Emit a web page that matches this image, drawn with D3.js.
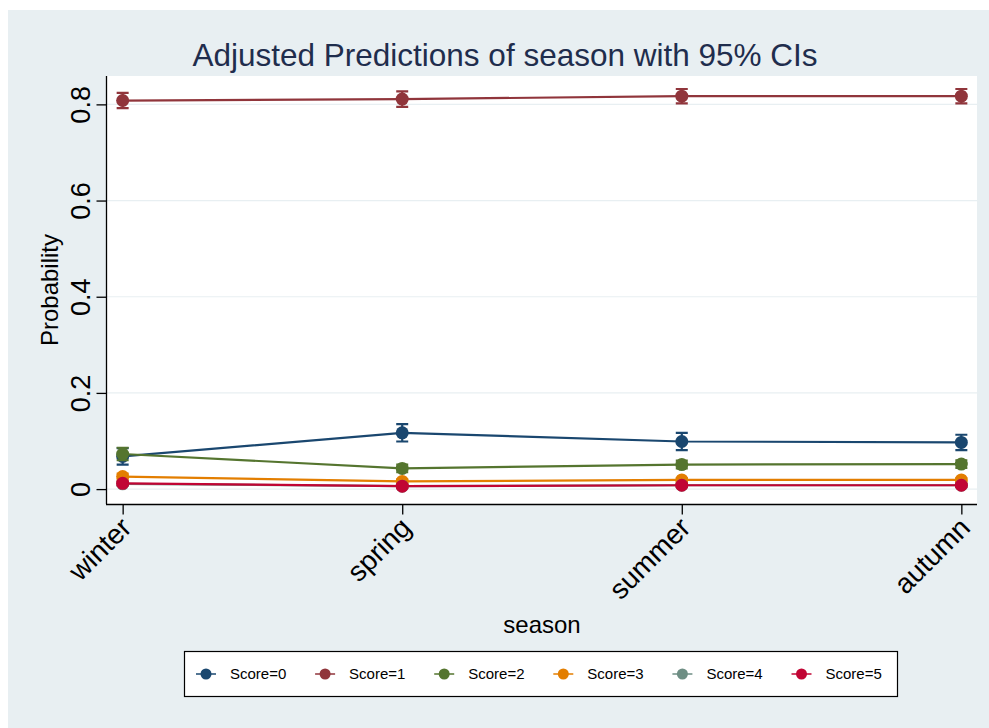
<!DOCTYPE html>
<html>
<head>
<meta charset="utf-8">
<script src="https://cdn.jsdelivr.net/npm/d3@7"></script>
<style>
  body { margin: 0; background: #fff; }
  svg { display: block; font-family: "Liberation Sans", Arial, sans-serif; }
</style>
</head>
<body>
<svg id="chart" width="989" height="728"></svg>
<script>
// categories along x
const seasons = ['winter', 'spring', 'summer', 'autumn'];
const scoreLabels = ['Score=0', 'Score=1', 'Score=2', 'Score=3', 'Score=4', 'Score=5'];
const yTickValues = [0, 0.2, 0.4, 0.6, 0.8];
const yTickLabels = ['0', '0.2', '0.4', '0.6', '0.8'];

// predicted probabilities, one array per score
const score0 = [0.068, 0.117, 0.099, 0.097];
const score1 = [0.808, 0.811, 0.817, 0.817];
const score2 = [0.073, 0.043, 0.051, 0.052];
const score3 = [0.026, 0.016, 0.019, 0.019];
const score4 = [0.011, 0.006, 0.008, 0.008];
const score5 = [0.012, 0.006, 0.008, 0.008];

// half widths of the 95% CIs
const ci0 = [0.017, 0.018, 0.018, 0.016];
const ci1 = [0.016, 0.016, 0.015, 0.015];
const ci2 = [0.013, 0.008, 0.008, 0.008];
const ci3 = [0.006, 0.004, 0.004, 0.004];
const ci4 = [0.004, 0.003, 0.003, 0.003];
const ci5 = [0.004, 0.003, 0.003, 0.003];

const seriesVals = [score0, score1, score2, score3, score4, score5];
const seriesCis = [ci0, ci1, ci2, ci3, ci4, ci5];
const colors = ['#1a476f', '#90353b', '#55752f', '#e37e00', '#6e8e84', '#c10534'];

const svg = d3.select('#chart');

// outer graph region
svg.append('rect')
  .attr('x', 8).attr('y', 10).attr('width', 981).attr('height', 718)
  .attr('fill', '#e8eff2');

const plot = {left: 107, right: 977, top: 76, bottom: 504};

svg.append('rect')
  .attr('x', plot.left).attr('y', plot.top)
  .attr('width', plot.right - plot.left).attr('height', plot.bottom - plot.top)
  .attr('fill', '#fff');

const x = d3.scalePoint()
  .domain(seasons)
  .range([plot.left, plot.right])
  .padding(0.056);

const y = d3.scaleLinear()
  .domain([-0.031, 0.859])
  .range([plot.bottom, plot.top]);

// gridlines
svg.append('g').selectAll('line')
  .data(yTickValues)
  .join('line')
  .attr('x1', plot.left).attr('x2', plot.right)
  .attr('y1', d => y(d)).attr('y2', d => y(d))
  .attr('stroke', '#e8eff2').attr('stroke-width', 1.2);

// y axis
const yAxis = svg.append('g')
  .attr('transform', `translate(${plot.left - 0.5},0)`)
  .call(d3.axisLeft(y).tickValues(yTickValues).tickSize(10).tickPadding(6)
    .tickFormat((d, i) => yTickLabels[i]));
yAxis.select('.domain').attr('d', `M0,${plot.top}V${plot.bottom}`).attr('stroke', '#000').attr('stroke-width', 1.3);
yAxis.selectAll('.tick line').attr('stroke', '#000').attr('stroke-width', 1.3);
yAxis.selectAll('.tick text')
  .attr('font-size', 27).attr('fill', '#000')
  .attr('text-anchor', 'middle')
  .attr('x', null).attr('dy', null)
  .attr('transform', 'translate(-17,0) rotate(-90)');

// x axis
const xAxis = svg.append('g')
  .attr('transform', `translate(0,${plot.bottom + 0.5})`)
  .call(d3.axisBottom(x).tickSize(10));
xAxis.select('.domain').attr('d', `M${plot.left - 1},0H${plot.right}`).attr('stroke', '#000').attr('stroke-width', 1.3);
xAxis.selectAll('.tick line').attr('stroke', '#000').attr('stroke-width', 1.3);
xAxis.selectAll('.tick text')
  .attr('font-size', 28).attr('fill', '#000')
  .attr('text-anchor', 'end')
  .attr('y', null).attr('dy', '0.35em')
  .attr('transform', 'translate(3,18) rotate(-45)');

// axis titles
svg.append('text')
  .attr('transform', `translate(58,${(plot.top + plot.bottom) / 2}) rotate(-90)`)
  .attr('text-anchor', 'middle')
  .attr('font-size', 24).attr('fill', '#000')
  .text('Probability');

svg.append('text')
  .attr('x', (plot.left + plot.right) / 2).attr('y', 633)
  .attr('text-anchor', 'middle')
  .attr('font-size', 24).attr('fill', '#000')
  .text('season');

svg.append('text')
  .attr('x', 505).attr('y', 66)
  .attr('text-anchor', 'middle')
  .attr('font-size', 31.5).attr('fill', '#1f2d4d')
  .text('Adjusted Predictions of season with 95% CIs');

// series: caps, line, markers
const line = d3.line()
  .x((d, i) => x(seasons[i]))
  .y(d => y(d));

seriesVals.forEach((vals, s) => {
  const g = svg.append('g');
  const c = colors[s];
  const ci = seriesCis[s];
  const pts = vals.map((v, i) => ({season: seasons[i], v, lo: v - ci[i], hi: v + ci[i]}));

  g.selectAll('.bar').data(pts).join('path')
    .attr('d', d => `M${x(d.season) - 6},${y(d.hi)}H${x(d.season) + 6}M${x(d.season)},${y(d.hi)}V${y(d.lo)}M${x(d.season) - 6},${y(d.lo)}H${x(d.season) + 6}`)
    .attr('fill', 'none').attr('stroke', c).attr('stroke-width', 2.2);

  g.append('path')
    .attr('d', line(vals))
    .attr('fill', 'none').attr('stroke', c).attr('stroke-width', 2.2);

  g.selectAll('circle').data(pts).join('circle')
    .attr('cx', d => x(d.season)).attr('cy', d => y(d.v))
    .attr('r', 6.5).attr('fill', c);
});

// legend
const legend = svg.append('g');
legend.append('rect')
  .attr('x', 184.5).attr('y', 651.5).attr('width', 713).attr('height', 45)
  .attr('fill', '#fff').attr('stroke', '#000').attr('stroke-width', 1.2);

const lx = d3.scaleLinear().domain([0, 5]).range([206, 801.5]);
const items = legend.selectAll('.item').data(scoreLabels).join('g')
  .attr('transform', (d, i) => `translate(${lx(i)},674)`);
items.append('line')
  .attr('x1', -10).attr('x2', 10)
  .attr('stroke', (d, i) => colors[i]).attr('stroke-width', 1.5);
items.append('circle')
  .attr('r', 5.5).attr('fill', (d, i) => colors[i]);
items.append('text')
  .attr('x', 24).attr('dy', '0.35em')
  .attr('font-size', 15).attr('fill', '#000')
  .text(d => d);
</script>
</body>
</html>
